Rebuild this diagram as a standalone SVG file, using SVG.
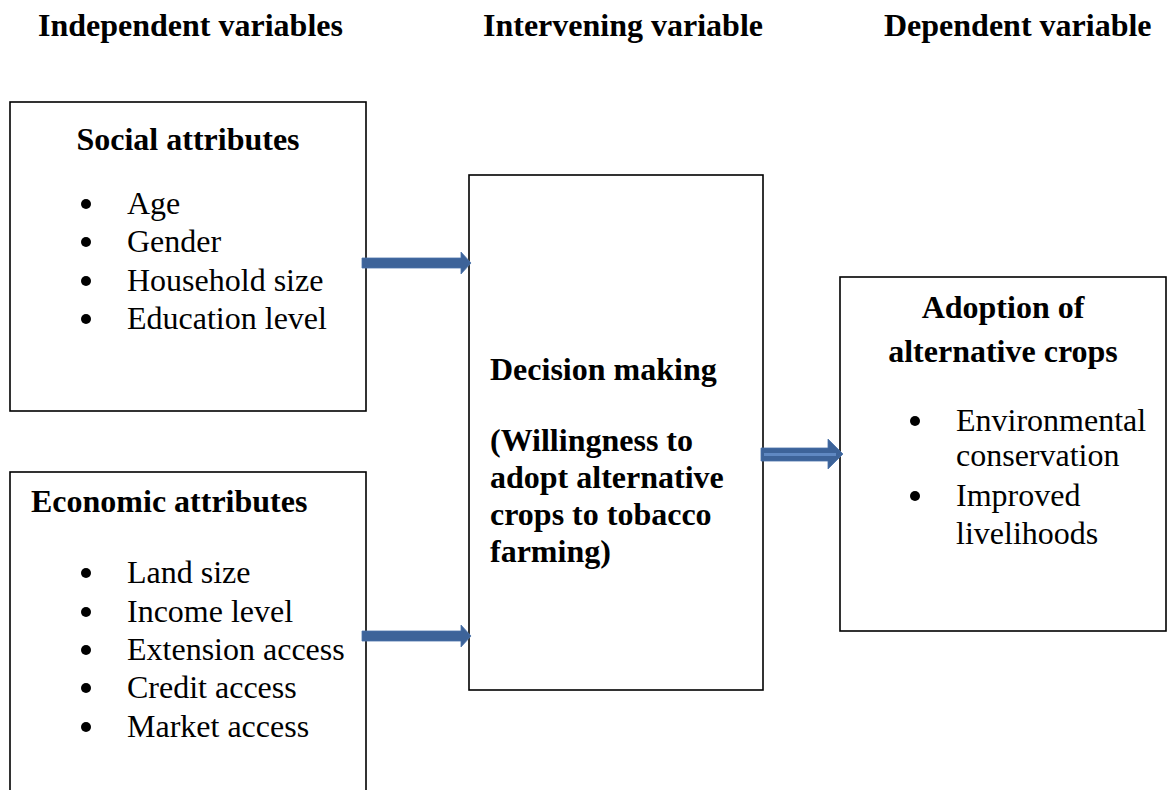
<svg xmlns="http://www.w3.org/2000/svg" width="1167" height="790" viewBox="0 0 1167 790">
<style>
.b{font-family:"Liberation Serif","Times New Roman",serif;font-weight:bold;font-size:32px;fill:#000}
.t{font-family:"Liberation Serif","Times New Roman",serif;font-size:32px;fill:#000}
.box{fill:#fff;stroke:#000;stroke-width:1.6}
.arr{fill:#3D6399;stroke:#4A72AA;stroke-width:0.8}
</style>
<rect width="1167" height="790" fill="#fff"/>
<g id="headers">
<text class="b" x="38" y="36">Independent variables</text>
<text class="b" x="483" y="36">Intervening variable</text>
<text class="b" x="884" y="36">Dependent variable</text>
</g>
<g id="social">
<rect class="box" x="10" y="102" width="356" height="309"/>
<text class="b" x="188" y="150" text-anchor="middle">Social attributes</text>
<circle cx="86" cy="204" r="5"/><text class="t" x="127" y="214">Age</text>
<circle cx="86" cy="242" r="5"/><text class="t" x="127" y="252">Gender</text>
<circle cx="86" cy="281" r="5"/><text class="t" x="127" y="291">Household size</text>
<circle cx="86" cy="319" r="5"/><text class="t" x="127" y="329">Education level</text>
</g>
<g id="economic">
<rect class="box" x="10" y="472" width="356" height="340"/>
<text class="b" x="31" y="512">Economic attributes</text>
<circle cx="86" cy="573" r="5"/><text class="t" x="127" y="583">Land size</text>
<circle cx="86" cy="612" r="5"/><text class="t" x="127" y="622">Income level</text>
<circle cx="86" cy="650" r="5"/><text class="t" x="127" y="660">Extension access</text>
<circle cx="86" cy="688" r="5"/><text class="t" x="127" y="698">Credit access</text>
<circle cx="86" cy="727" r="5"/><text class="t" x="127" y="737">Market access</text>
</g>
<g id="decision">
<rect class="box" x="469" y="175" width="294" height="515"/>
<text class="b" x="490" y="380">Decision making</text>
<text class="b" x="490" y="451">(Willingness to</text>
<text class="b" x="490" y="488">adopt alternative</text>
<text class="b" x="490" y="525">crops to tobacco</text>
<text class="b" x="490" y="562">farming)</text>
</g>
<g id="adoption">
<rect class="box" x="840" y="277" width="326" height="354"/>
<text class="b" x="1003" y="318" text-anchor="middle">Adoption of</text>
<text class="b" x="1003" y="362" text-anchor="middle">alternative crops</text>
<circle cx="915" cy="421" r="5"/><text class="t" x="956" y="431">Environmental</text>
<text class="t" x="956" y="466">conservation</text>
<circle cx="915" cy="496" r="5"/><text class="t" x="956" y="506">Improved</text>
<text class="t" x="956" y="544">livelihoods</text>
</g>
<g id="connectors">
<polygon class="arr" points="362,258 461,258 461,252 471,263 461,274 461,268 362,268"/>
<polygon class="arr" points="362,631 461,631 461,625 471,636 461,647 461,641 362,641"/>
<polygon class="arr" points="761,448 828,448 828,439 843,454 828,469 828,461 761,461"/>
<line x1="764" y1="454.5" x2="836" y2="454.5" stroke="#5F88C2" stroke-width="3"/>
</g>
</svg>
